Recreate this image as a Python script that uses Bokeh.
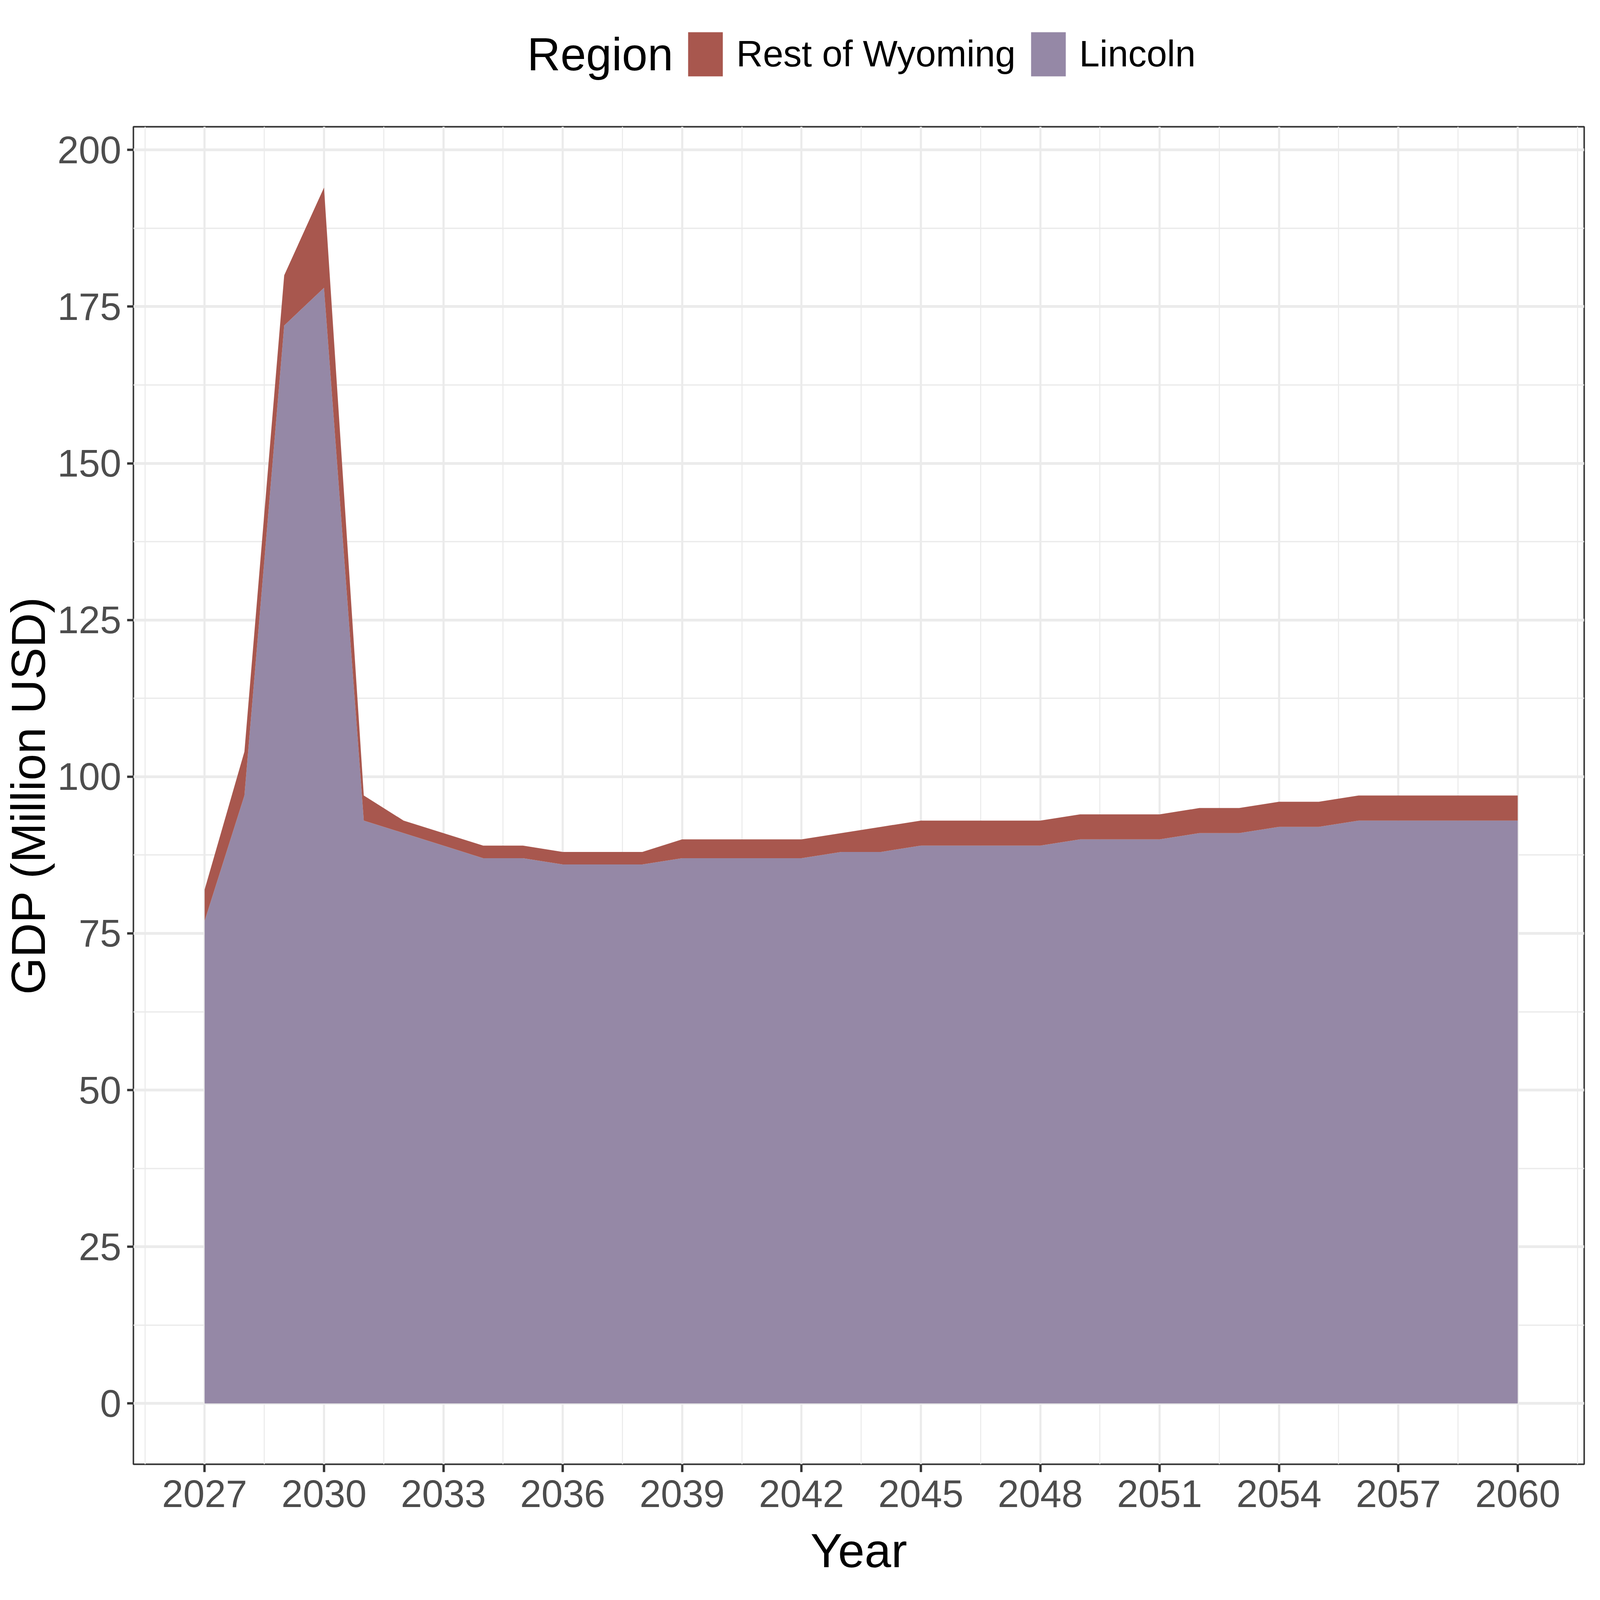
from bokeh.plotting import figure
from bokeh.layouts import column
from bokeh.models import Range1d, FixedTicker, Legend, LegendItem, ColumnDataSource, Label
from bokeh.embed import file_html
from bokeh.resources import INLINE

# ---- data ----
years = list(range(2027, 2061))
lincoln = [77, 97, 172, 178, 93, 91, 89, 87, 87, 86, 86, 86, 87, 87, 87, 87, 88,
           88, 89, 89, 89, 89, 90, 90, 90, 91, 91, 92, 92, 93, 93, 93, 93, 93]
rest_of_wyoming = [5, 7, 8, 16, 4, 2, 2, 2, 2, 2, 2, 2, 3, 3, 3, 3, 3,
                   4, 4, 4, 4, 4, 4, 4, 4, 4, 4, 4, 4, 4, 4, 4, 4, 4]
series_names = ["Rest of Wyoming", "Lincoln"]
series_colors = ["#A8574E", "#9588A6"]
legend_title = "Region"
x_ticks = list(range(2027, 2061, 3))
x_minor = [2025.5 + 3 * i for i in range(13)]
y_ticks = list(range(0, 201, 25))
y_minor = [12.5 + 25 * i for i in range(8)]

FONT = "Liberation Sans"
W, H = 4080, 4080          # whole chart (page px)
HEAD_H = 276               # legend strip above the plot
L_B, R_B = 326, 25         # left / right borders of the plotting frame
FRAME_W = W - L_B - R_B

TICK_FS = "98px"
TITLE_FS = "122.4px"
LEG_FS = "94px"
LEG_TITLE_FS = "118px"

src = ColumnDataSource(dict(year=years, lincoln=lincoln, rest=rest_of_wyoming))

# ---------------- main plot ----------------
p = figure(width=W, height=H - HEAD_H, output_backend="svg", toolbar_location=None,
           x_range=Range1d(2025.21, 2061.67), y_range=Range1d(-9.7, 203.7),
           min_border_left=L_B, min_border_right=R_B, min_border_top=48,
           min_border_bottom=332)
p.background_fill_color = "white"
p.border_fill_color = "white"
p.outline_line_color = "#333333"
p.outline_line_width = 3.8

rs = p.varea_stack(stackers=["lincoln", "rest"], x="year", source=src,
                   color=[series_colors[1], series_colors[0]])

for ax in (p.xaxis[0], p.yaxis[0]):
    ax.axis_line_color = None
    ax.major_tick_line_color = "#333333"
    ax.major_tick_line_width = 6
    ax.major_tick_in = 0
    ax.minor_tick_line_color = None
    ax.major_label_text_font = FONT
    ax.major_label_text_font_size = TICK_FS
    ax.major_label_text_color = "#4D4D4D"
    ax.axis_label_text_font = FONT
    ax.axis_label_text_font_size = TITLE_FS
    ax.axis_label_text_color = "black"
    ax.axis_label_text_font_style = "normal"

p.xaxis[0].major_tick_out = 20
p.yaxis[0].major_tick_out = 16
p.xaxis[0].ticker = FixedTicker(ticks=x_ticks, minor_ticks=x_minor)
p.yaxis[0].ticker = FixedTicker(ticks=y_ticks, minor_ticks=y_minor)
p.xaxis[0].axis_label = "Year"
p.yaxis[0].axis_label = "GDP (Million USD)"
p.xaxis[0].major_label_standoff = 21
p.yaxis[0].major_label_standoff = 15
p.xaxis[0].axis_label_standoff = 40
p.yaxis[0].axis_label_standoff = 3

p.xgrid[0].grid_line_color = "#EBEBEB"
p.xgrid[0].grid_line_width = 5.4
p.xgrid[0].minor_grid_line_color = "#EBEBEB"
p.xgrid[0].minor_grid_line_width = 2.7
p.ygrid[0].grid_line_color = "#EBEBEB"
p.ygrid[0].grid_line_width = 6.8
p.ygrid[0].minor_grid_line_color = "#EBEBEB"
p.ygrid[0].minor_grid_line_width = 3.4

# ---------------- legend strip ----------------
head = figure(width=W, height=HEAD_H, output_backend="svg", toolbar_location=None,
              x_range=Range1d(0, FRAME_W), y_range=Range1d(0, HEAD_H),
              x_axis_type=None, y_axis_type=None,
              min_border_left=L_B, min_border_right=R_B, min_border_top=0,
              min_border_bottom=0)
head.outline_line_color = None
head.background_fill_color = "white"
head.border_fill_color = "white"
head.grid.visible = False

nan = float("nan")
proxy = ColumnDataSource(dict(x=[nan], y1=[nan], y2=[nan]))
h_rest = head.varea(x="x", y1="y1", y2="y2", source=proxy, color=series_colors[0])
h_lin = head.varea(x="x", y1="y1", y2="y2", source=proxy, color=series_colors[1])

glyph_w, glyph_h = 111, 141
legend = Legend(items=[LegendItem(label=series_names[0], renderers=[h_rest]),
                       LegendItem(label=series_names[1], renderers=[h_lin])],
                orientation="horizontal",
                location=(1409, (HEAD_H - glyph_h) / 2))
legend.background_fill_alpha = 0
legend.border_line_color = None
legend.padding = 0
legend.margin = 0
legend.glyph_width = glyph_w
legend.glyph_height = glyph_h
legend.label_height = glyph_h
legend.label_standoff = 24
legend.spacing = 28
legend.label_text_font = FONT
legend.label_text_font_size = LEG_FS
legend.label_text_color = "black"
head.add_layout(legend, "center")

head.add_layout(Label(x=1012, y=HEAD_H / 2, text=legend_title, text_font=FONT,
                      text_font_size=LEG_TITLE_FS, text_color="black",
                      text_baseline="middle", text_align="left"))

layout = column(head, p, spacing=0)
open("out.html", "w").write(file_html(layout, INLINE))
